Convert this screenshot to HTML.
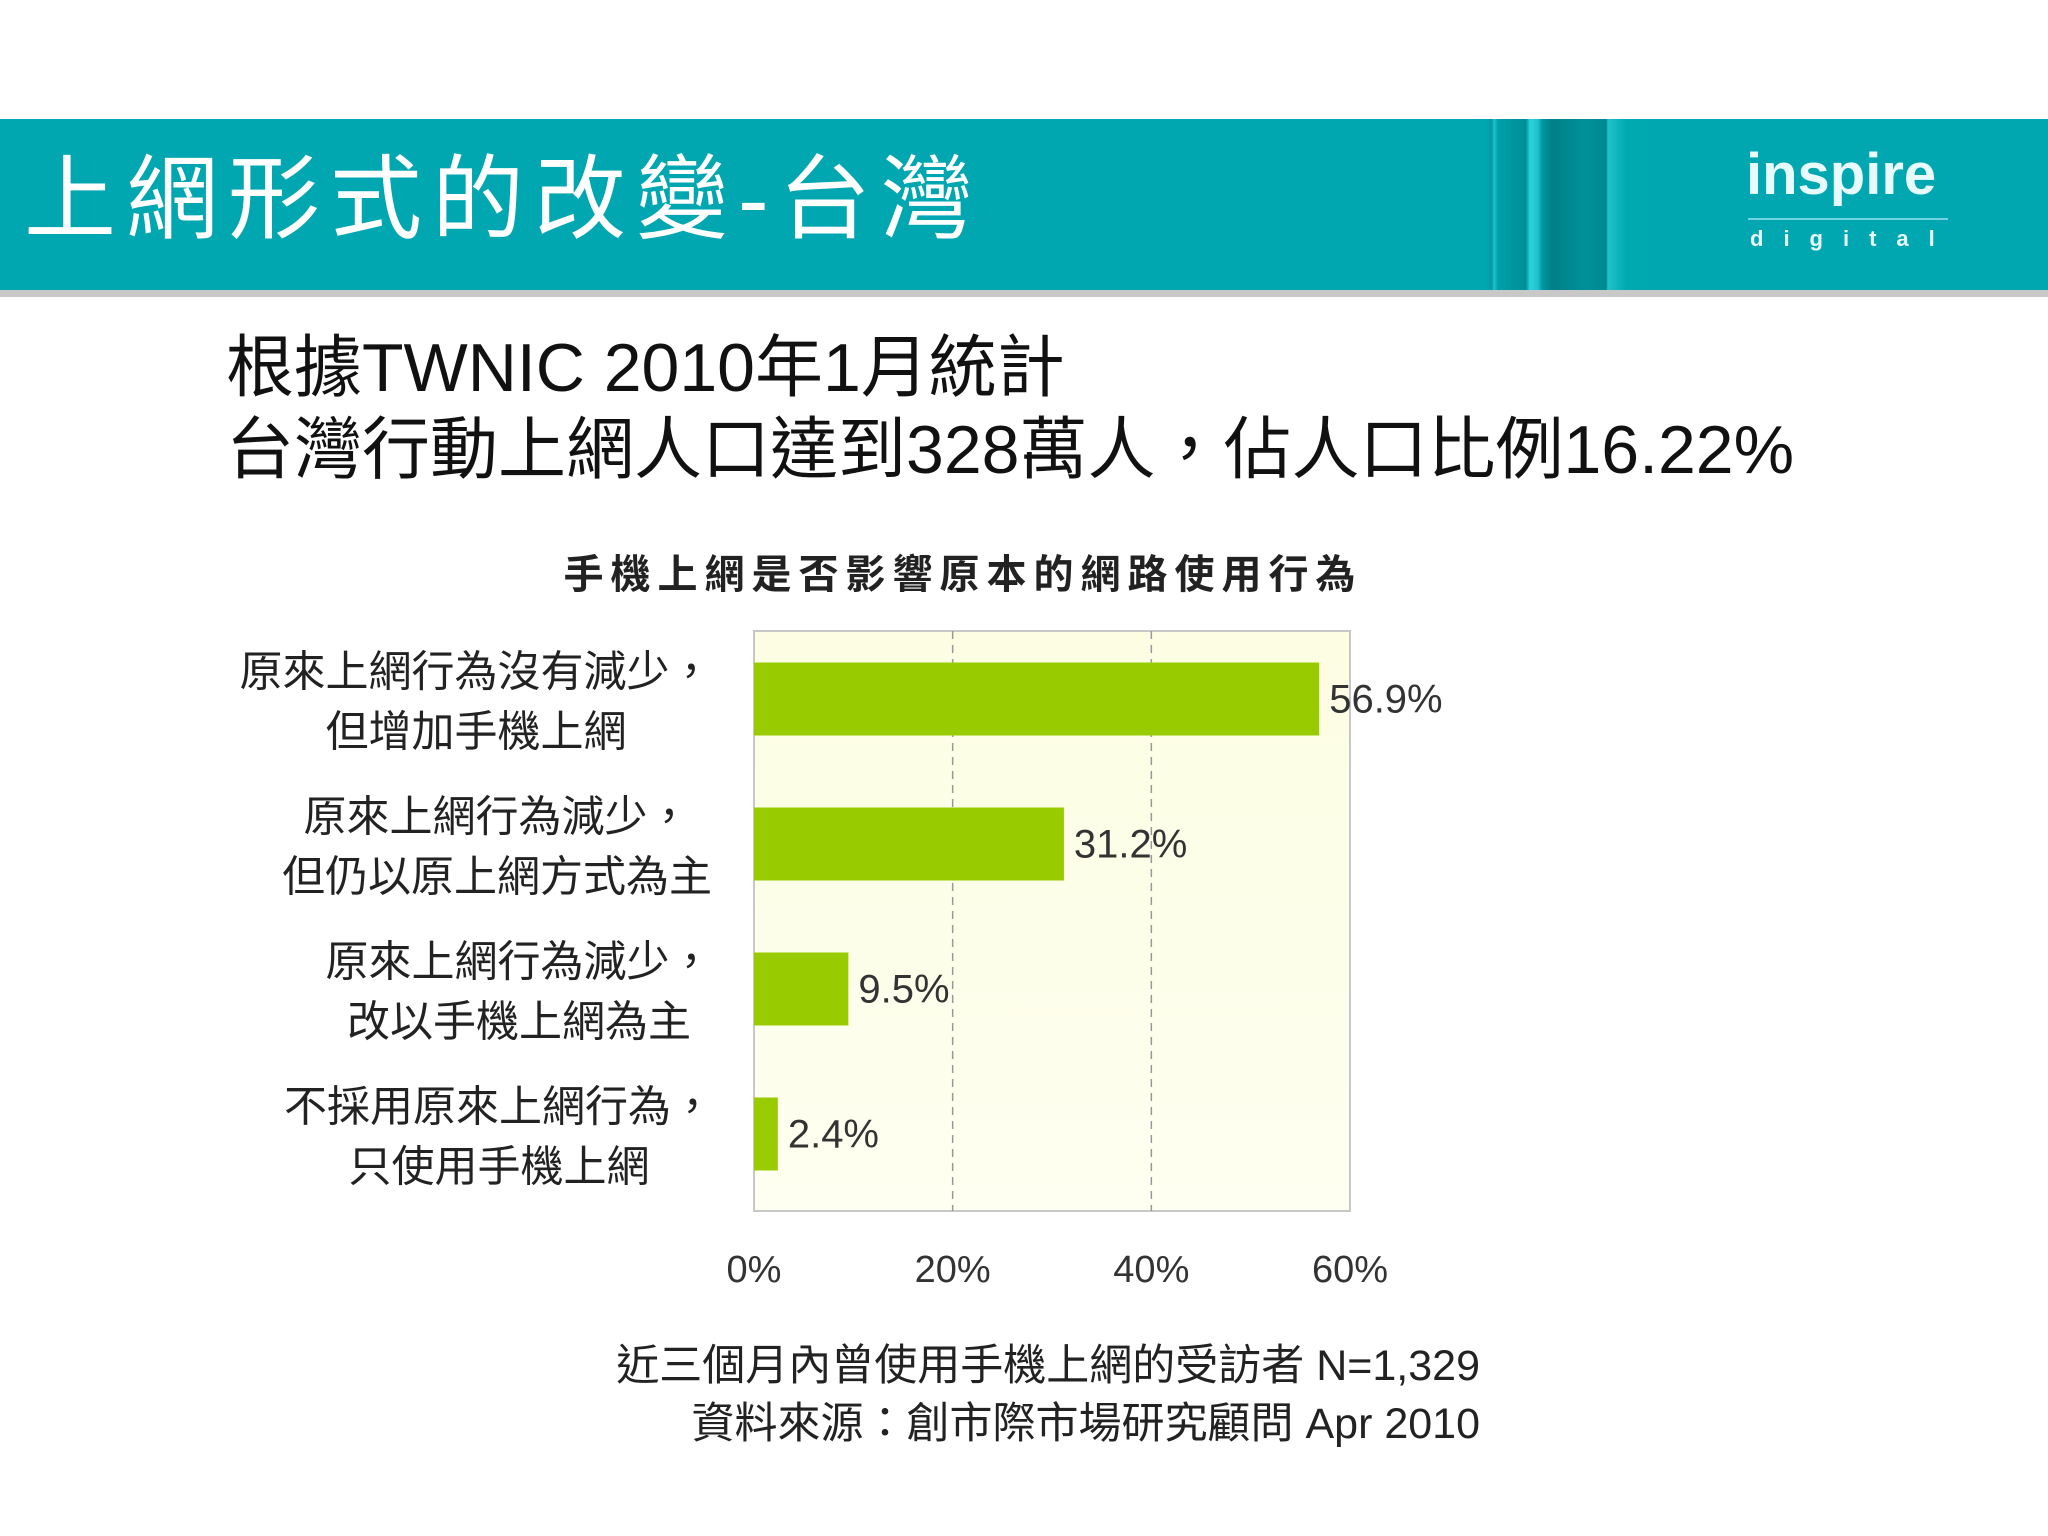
<!DOCTYPE html>
<html><head><meta charset="utf-8">
<style>
html,body{margin:0;padding:0;background:#fff;}
body{width:2048px;height:1536px;position:relative;overflow:hidden;font-family:"Liberation Sans","Noto Sans CJK TC",sans-serif;}
.abs{position:absolute;}
</style></head>
<body>
<div class="abs" style="left:0;top:119px;width:2048px;height:171px;background:#00a7b0;"></div>
<div class="abs" style="left:0;top:290px;width:2048px;height:7px;background:#c8c8c8;"></div>
<div class="abs" style="left:1486px;top:119px;width:166px;height:171px;background:linear-gradient(90deg,#00a7b0 0,#0a9aa2 6px,#1cc4cc 8px,#00a0a8 12px,#008f98 40px,#2ad4dc 44px,#20c0d0 52px,#009aa2 56px,#007f88 66px,#00919a 100px,#008890 120px,#22c0c8 122px,#00aab2 140px,#00a7b0 166px);"></div>
<div class="abs" style="left:24px;top:140px;color:#fff;font-size:92px;line-height:120px;letter-spacing:10px;white-space:nowrap;">上網形式的改變-台灣</div>
<div class="abs" style="left:1746px;top:140px;color:#e8fbfc;font-size:58px;font-weight:bold;line-height:70px;">inspire</div>
<div class="abs" style="left:1748px;top:218px;width:200px;height:2px;background:#6fd4e0;"></div>
<div class="abs" style="left:1750px;top:226px;color:#e8fbfc;font-size:22px;font-weight:bold;letter-spacing:20px;">digital</div>

<div class="abs" style="left:226px;top:326px;font-size:68px;line-height:84px;color:#111;white-space:nowrap;">根據TWNIC 2010年1月統計</div>
<div class="abs" style="left:226px;top:408px;font-size:68px;line-height:84px;color:#111;white-space:nowrap;">台灣行動上網人口達到328萬人，佔人口比例16.22%</div>

<svg class="abs" style="left:0;top:0" width="2048" height="1536">
<defs><linearGradient id="bg" x1="0" y1="0" x2="0" y2="1"><stop offset="0" stop-color="#fcfde2"/><stop offset="1" stop-color="#fefff0"/></linearGradient></defs>
<g id="chart"></g>
</svg>
<script>
const categories1=["原來上網行為沒有減少，","原來上網行為減少，","原來上網行為減少，","不採用原來上網行為，"];
const categories2=["但增加手機上網","但仍以原上網方式為主","改以手機上網為主","只使用手機上網"];
const values=[56.9,31.2,9.5,2.4];
const valueLabels=["56.9%","31.2%","9.5%","2.4%"];
const ticks=[0,20,40,60];
const tickLabels=["0%","20%","40%","60%"];
const labelCenters=[476,497,519,499];
const NS="http://www.w3.org/2000/svg";
const g=document.getElementById('chart');
const L=754,R=1350,T=631,B=1211;
const xs=v=>L+(v/60)*(1350-L);
const band=(B-T)/values.length;
function mk(t,a){const e=document.createElementNS(NS,t);for(const k in a)e.setAttribute(k,a[k]);g.appendChild(e);return e;}
let e;
e=mk('text',{x:963,y:588,'text-anchor':'middle','font-size':40,'font-weight':'bold',fill:'#222','letter-spacing':'7'});e.textContent="手機上網是否影響原本的網路使用行為";


e=mk('rect',{x:L,y:T,width:R-L,height:B-T,fill:'url(#bg)',stroke:'#c8c8c8','stroke-width':2});


ticks.forEach((t,i)=>{
  if(t>0&&t<60){const l=mk('line',{x1:xs(t),x2:xs(t),y1:T,y2:B,stroke:'#999','stroke-width':1.5,'stroke-dasharray':'8,6'});
  
  }
  const tx=mk('text',{x:xs(t),y:1282,'text-anchor':'middle','font-size':38,fill:'#333'});tx.textContent=tickLabels[i];
  
  
});
values.forEach((v,i)=>{
  const cy=T+band*i+band/2-5;
  const r=mk('rect',{x:L,y:cy-36,width:xs(v)-L,height:73,fill:'#99cc00'});
  
  
  const vl=mk('text',{x:xs(v)+10,y:cy+14,'font-size':40,fill:'#333'});vl.textContent=valueLabels[i];
  
  
  const c1=mk('text',{x:labelCenters[i],y:cy-12,'text-anchor':'middle','font-size':43,fill:'#222'});c1.textContent=categories1[i];
  
  
  const c2=mk('text',{x:labelCenters[i],y:cy+48,'text-anchor':'middle','font-size':43,fill:'#222'});c2.textContent=categories2[i];
  
  
});
e=mk('text',{x:1480,y:1380,'text-anchor':'end','font-size':43,fill:'#222'});e.textContent="近三個月內曾使用手機上網的受訪者 N=1,329";


e=mk('text',{x:1480,y:1438,'text-anchor':'end','font-size':43,fill:'#222'});e.textContent="資料來源：創市際市場研究顧問 Apr 2010";


</script>
</body></html>
